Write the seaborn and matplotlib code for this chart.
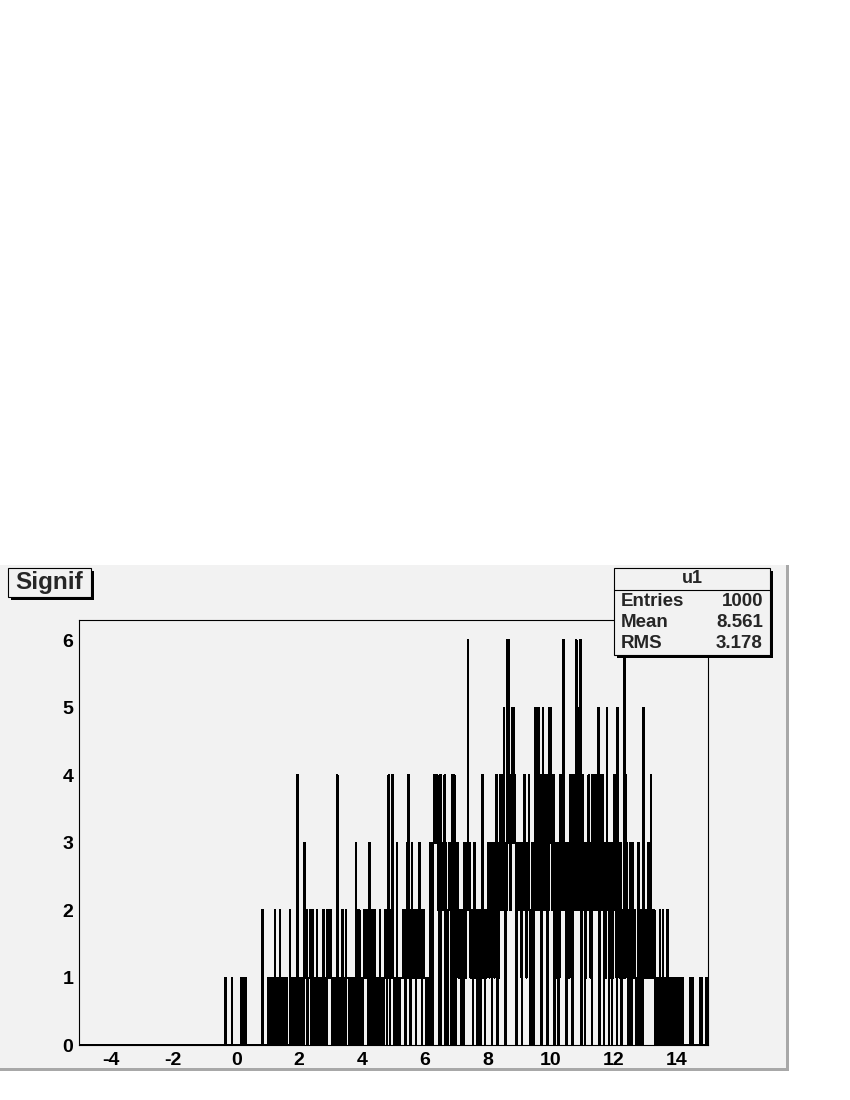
import numpy as np
import pandas as pd
import matplotlib
matplotlib.use("Agg")
import matplotlib.pyplot as plt
import seaborn as sns
from matplotlib.patches import Rectangle

# ---- data: histogram "u1" (title "Signif"), 1000 bins from -5 to 15 ----
x_min, x_max, n_bins = -5.0, 15.0, 1000
# one string per unit of x (-5..14), 50 bin counts each, grouped by 10
counts_text = [
    "0000000000 0000000000 0000000000 0000000000 0000000000",  # -5
    "0000000000 0000000000 0000000000 0000000000 0000000000",  # -4
    "0000000000 0000000000 0000000000 0000000000 0000000000",  # -3
    "0000000000 0000000000 0000000000 0000000000 0000000000",  # -2
    "0000000000 0000000000 0000000000 0010000000 0001000000",  # -1
    "0000000010 1101010000 0000000000 0000000000 0200000000",  # 0
    "1011100010 1201110012 1000111101 1000021110 1011000410",  # 1
    "1011100131 2120111210 1201111021 0111001120 1011021112",  # 2
    "1100011010 4310111021 0110211110 1011000110 3122021011",  # 3
    "1012111210 1310021202 1011100121 0110012120 2142021241",  # 4
    "1011031110 0111121220 1314212013 1121202121 2312202121",  # 5
    "1101010032 2203434334 2230402332 3403201223 3204304302",  # 6
    "3231212021 1032313263 2312120231 2120212102 1421202122",  # 7
    "2313230323 1324303132 4342352303 2656342435 3543201323",  # 8
    "3231023242 3132342012 3201353232 5324303534 2342043253",  # 9
    "5323402313 2301242324 6323102321 2432034232 6324352602",  # 10
    "3432013232 4231304342 3424352014 3243023125 2303123012",  # 11
    "3423105231 2301212614 3210123201 3212101023 1202102512",  # 12
    "2121231214 2121201011 0102101021 0110120101 1011010110",  # 13
    "0101010001 0000000000 0100010000 0000000101 0000000100",  # 14
]
hist_title = "Signif"
hist_name = "u1"
stat_names = ["Entries", "Mean", "RMS"]
stat_values = ["1000", "8.561", "3.178"]

counts = [int(c) for row in counts_text for c in row.replace(" ", "")]
edges = np.linspace(x_min, x_max, n_bins + 1)
centers = (edges[:-1] + edges[1:]) / 2
df = pd.DataFrame({"x": centers, "n": counts})

sns.set_style("white")
plt.rcParams["font.family"] = ["Liberation Sans", "DejaVu Sans"]
plt.rcParams["font.weight"] = "bold"
plt.rcParams["axes.unicode_minus"] = False

W, H = 850, 1100
GRAY = "#f2f2f2"


def fx(px):
    return px / W


def fy(py):
    return 1 - py / H


def box(fig, x0, y0, x1, y1, color, ec="none", z=1, lw=0.0):
    fig.patches.append(Rectangle((fx(x0), fy(y1)), fx(x1) - fx(x0), fy(y0) - fy(y1),
                                 transform=fig.transFigure, facecolor=color,
                                 edgecolor=ec, linewidth=lw, zorder=z))


fig = plt.figure(figsize=(8.5, 11), dpi=100)
fig.patch.set_facecolor("white")

# canvas pad with grey bevel on right / bottom
box(fig, 0, 565, 789, 1071, "#a8a8a8", z=-10)
box(fig, 0, 565, 786, 1068, GRAY, z=-9)

ax = fig.add_axes([fx(79), fy(1045), fx(708) - fx(79), fy(620) - fy(1045)])
ax.set_facecolor(GRAY)
sns.histplot(data=df, x="x", weights="n", bins=n_bins, binrange=(x_min, x_max),
             element="step", fill=False, color="black", linewidth=0.72, ax=ax)
for ln in ax.lines:
    ln.set_antialiased(False)

ax.set_xlim(x_min, x_max)
ax.set_ylim(0, 6.3)
ax.set_xlabel("")
ax.set_ylabel("")
ax.set_xticks(np.arange(-4, 15, 2))
ax.set_xticks(np.arange(-5, 15.01, 0.5), minor=True)
ax.set_yticks(np.arange(0, 7, 1))
ax.set_yticks(np.arange(0, 6.31, 0.2), minor=True)
ax.tick_params(which="both", direction="in", top=False, right=False, width=0.8, colors="black")
ax.tick_params(axis="x", which="major", length=9.3, pad=5, labelsize=14)
ax.tick_params(axis="x", which="minor", length=4.5)
ax.tick_params(axis="y", which="major", length=13.7, pad=4, labelsize=14)
ax.tick_params(axis="y", which="minor", length=6.8)
for lab in ax.get_xticklabels() + ax.get_yticklabels():
    lab.set_fontweight("bold")
for sp in ax.spines.values():
    sp.set_color("black")
    sp.set_linewidth(0.8)

# title box
box(fig, 11, 571, 94, 600, "black", z=10)
box(fig, 8, 568, 91, 597, GRAY, ec="black", lw=0.8, z=11)
fig.text(fx(49), fy(583), hist_title, ha="center", va="center", fontsize=17.5,
         fontweight="bold", zorder=12)

# stats box
box(fig, 617, 571, 773, 658, "black", z=10)
box(fig, 614, 568, 770, 655, GRAY, ec="black", lw=0.8, z=11)
fig.lines.append(plt.Line2D([fx(614), fx(770)], [fy(590), fy(590)], transform=fig.transFigure,
                            color="black", linewidth=0.8, zorder=12))
fig.text(fx(692), fy(578.5), hist_name, ha="center", va="center", fontsize=13,
         fontweight="bold", zorder=12)
for i, (name, val) in enumerate(zip(stat_names, stat_values)):
    yy = fy(601 + 21.5 * i)
    fig.text(fx(621), yy, name, ha="left", va="center", fontsize=13.5, fontweight="bold", zorder=12)
    fig.text(fx(763), yy, val, ha="right", va="center", fontsize=13.5, fontweight="bold", zorder=12)

fig.savefig("out.png", dpi=100, facecolor="white")
